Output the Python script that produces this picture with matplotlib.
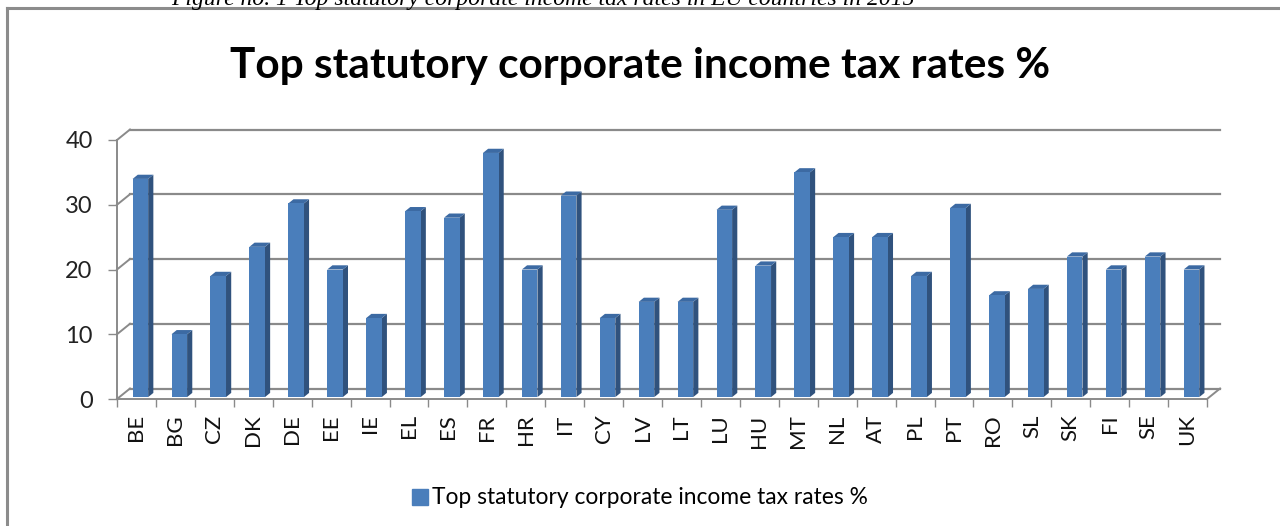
import numpy as np
import matplotlib
matplotlib.use("Agg")
import matplotlib.pyplot as plt
from matplotlib.patches import Polygon, Patch
from matplotlib.lines import Line2D

# dados
paises = ["BE", "BG", "CZ", "DK", "DE", "EE", "IE", "EL", "ES", "FR", "HR", "IT", "CY", "LV",
          "LT", "LU", "HU", "MT", "NL", "AT", "PL", "PT", "RO", "SL", "SK", "FI", "SE", "UK"]
taxas = [33.99, 10, 19, 23.5, 30.2, 20, 12.5, 29, 28, 38, 20, 31.4, 12.5, 15,
         15, 29.22, 20.6, 35, 25, 25, 19, 29.5, 16, 17, 22, 20, 22, 20]
y_ticks = [0, 10, 20, 30, 40]
titulo = "Top statutory corporate income tax rates %"
legenda = "Top statutory corporate income tax rates %"
legenda_fig = "Figure no. 1 Top statutory corporate income tax rates in EU countries in 2015"

plt.rcParams['font.family'] = ['Lato', 'DejaVu Sans']

W, H = 1280, 526
fig = plt.figure(figsize=(W / 100, H / 100), dpi=100)

# geometria do grafico (pixels)
x0_px, px_x = 117, 38.93
y0_px, px_y = 399, 6.475
DX = 13 / px_x      # profundidade 3D em unidades de categoria
DY = 10.5 / px_y    # profundidade 3D em unidades de valor
n = len(paises)
ymax = 40

ax = fig.add_axes([x0_px / W, (H - y0_px) / H,
                   (n + DX) * px_x / W, (ymax + DY) * px_y / H])
ax.set_xlim(0, n + DX)
ax.set_ylim(0, ymax + DY)
for s in ax.spines.values():
    s.set_visible(False)

cinza = "#8a8a8a"
# grade: parede do fundo + parede lateral
for g in y_ticks:
    ax.plot([DX, n + DX], [g + DY, g + DY], color=cinza, lw=1.6, zorder=1, clip_on=False)
    ax.plot([0, DX], [g, g + DY], color=cinza, lw=1.4, zorder=1, clip_on=False)
# eixos frontais e chao
ax.plot([0, 0], [0, ymax], color=cinza, lw=1.4, zorder=2, clip_on=False)
ax.plot([0, n], [0, 0], color=cinza, lw=1.4, zorder=2, clip_on=False)
ax.plot([n, n + DX], [0, DY], color=cinza, lw=1.4, zorder=2, clip_on=False)

# barras 3D
Wb = 0.4
F0, D = 0.3, 0.4
frente, lado, topo = "#4a7ebb", "#30527d", "#3c6aa3"
for i, v in enumerate(taxas):
    xa = i + 0.5 - Wb / 2 + F0 * DX
    xb = xa + Wb
    b = F0 * DY * 0.6
    ddx, ddy = D * DX, D * DY
    ax.add_patch(Polygon([(xb, b), (xb + ddx, b + ddy), (xb + ddx, v + ddy), (xb, v)],
                         closed=True, fc=lado, ec="none", zorder=3))
    ax.add_patch(Polygon([(xa, v), (xb, v), (xb + ddx, v + ddy), (xa + ddx, v + ddy)],
                         closed=True, fc=topo, ec="none", zorder=3))
    ax.add_patch(Polygon([(xa, b), (xb, b), (xb, v), (xa, v)],
                         closed=True, fc=frente, ec="none", zorder=4))

# ticks
ax.set_yticks(y_ticks)
ax.set_yticklabels([str(t) for t in y_ticks])
ax.tick_params(axis='y', length=6.5, width=1, color=cinza, pad=11, labelsize=17, labelcolor="#222222")
ax.set_xticks(np.arange(n) + 0.5)
ax.set_xticklabels(paises, rotation=90)
ax.set_xticks(np.arange(n + 1), minor=True)
ax.tick_params(axis='x', which='major', length=0, pad=11, labelsize=16, labelcolor="#111111")
ax.tick_params(axis='x', which='minor', length=6, width=1, color=cinza)

# titulo
fig.text(0.5, 1 - 66 / H, titulo, ha='center', va='center', fontsize=30.5, fontweight='bold')

# legenda
fig.legend(handles=[Patch(color=frente)], labels=[legenda], loc='center',
           bbox_to_anchor=(640 / W, 1 - 498 / H), frameon=False, fontsize=16.4,
           handlelength=0.7, handleheight=0.7, handletextpad=0.2)

# moldura e legenda da figura (cortada no topo, como no original)
fig.add_artist(Line2D([7 / W, 1], [1 - 8 / H, 1 - 8 / H], color="#8c8c8c", lw=2.2,
                      transform=fig.transFigure))
fig.add_artist(Line2D([7 / W, 7 / W], [0, 1 - 8 / H], color="#8c8c8c", lw=2.2,
                      transform=fig.transFigure))
fig.text(543 / W, 1 - 5 / H, legenda_fig, ha='center', va='baseline', fontsize=17,
         family='Liberation Serif', style='italic')

fig.savefig("out.png", dpi=100)
